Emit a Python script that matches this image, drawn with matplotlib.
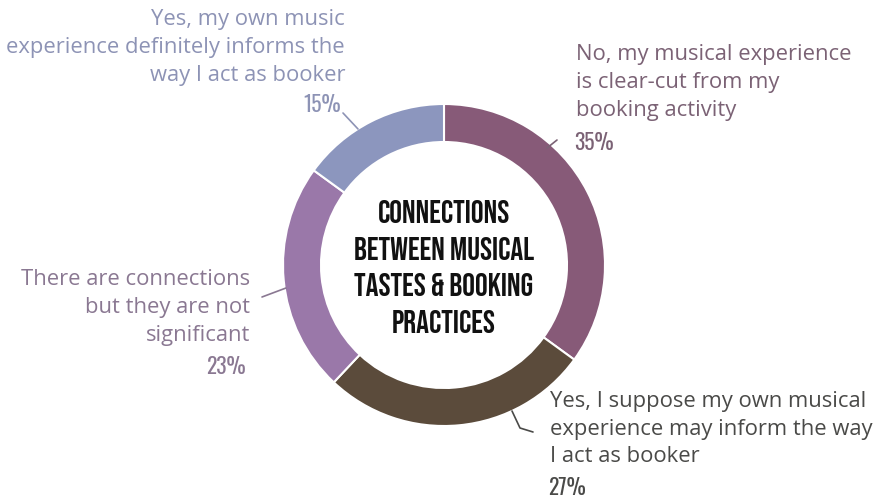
import matplotlib
matplotlib.use("Agg")
import matplotlib.pyplot as plt

# survey answers, clockwise from 12 o'clock
answers = [
    "No, my musical experience\nis clear-cut from my\nbooking activity",
    "Yes, I suppose my own musical\nexperience may inform the way\nI act as booker",
    "There are connections\nbut they are not\nsignificant",
    "Yes, my own music\nexperience definitely informs the\nway I act as booker",
]
shares = [35, 27, 23, 15]
wedge_colors = ["#875a78", "#5b4b3b", "#9a78a9", "#8c96be"]
text_colors = ["#7b6275", "#4a4a48", "#8a7892", "#8d93b5"]
title = "CONNECTIONS\nBETWEEN MUSICAL\nTASTES & BOOKING\nPRACTICES"

W, H = 881, 499
cx, cy, radius, ring = 444, 265, 161, 38

fig = plt.figure(figsize=(W / 100, H / 100), dpi=100)
fig.patch.set_facecolor("white")
ax = fig.add_axes([0, 0, 1, 1])


def Y(y):
    # page coordinates run top-down
    return H - y


ax.pie(
    shares,
    colors=wedge_colors,
    startangle=90,
    counterclock=False,
    center=(cx, Y(cy)),
    radius=radius,
    wedgeprops=dict(width=ring, edgecolor="white", linewidth=1.5),
)
ax.set_xlim(0, W)
ax.set_ylim(0, H)
ax.set_aspect("equal")
ax.axis("off")

label_font = dict(family=["Open Sans", "DejaVu Sans"], fontsize=15.8,
                  linespacing=1.42)
pct_font = dict(family=["Oswald", "Roboto Condensed", "DejaVu Sans"], fontsize=15.5,
                fontweight="bold")
title_font = dict(family=["Bebas Neue", "Anton", "DejaVu Sans"], fontsize=23,
                  linespacing=1.6)

# (x, y of text block centre, alignment, y of percentage, leader points)
layout = [
    (576, 82.5, "left", 143, [(557, 140), (547, 148)]),
    (550, 429, "left", 488, [(512, 411), (520, 428), (533, 432)]),
    (250, 307.5, "right", 367, [(262, 297), (286, 288)]),
    (345, 47.5, "right", 105, [(343, 113), (358, 129)]),
]

for text, pct, tc, (x, y, ha, py, pts) in zip(answers, shares, text_colors, layout):
    ax.text(x, Y(y), text, ha=ha, va="center", color=tc, **label_font)
    ax.text(x - 2 if ha == "left" else x - 4, Y(py), f"{pct}%", ha=ha, va="center",
            color=tc, **pct_font)
    ax.plot([p[0] for p in pts], [Y(p[1]) for p in pts], color=tc, lw=1.2,
            solid_capstyle="round")

ax.text(cx, Y(266.5), title, ha="center", va="center", color="#111111", **title_font)

fig.savefig("out.png", dpi=100, facecolor="white")
